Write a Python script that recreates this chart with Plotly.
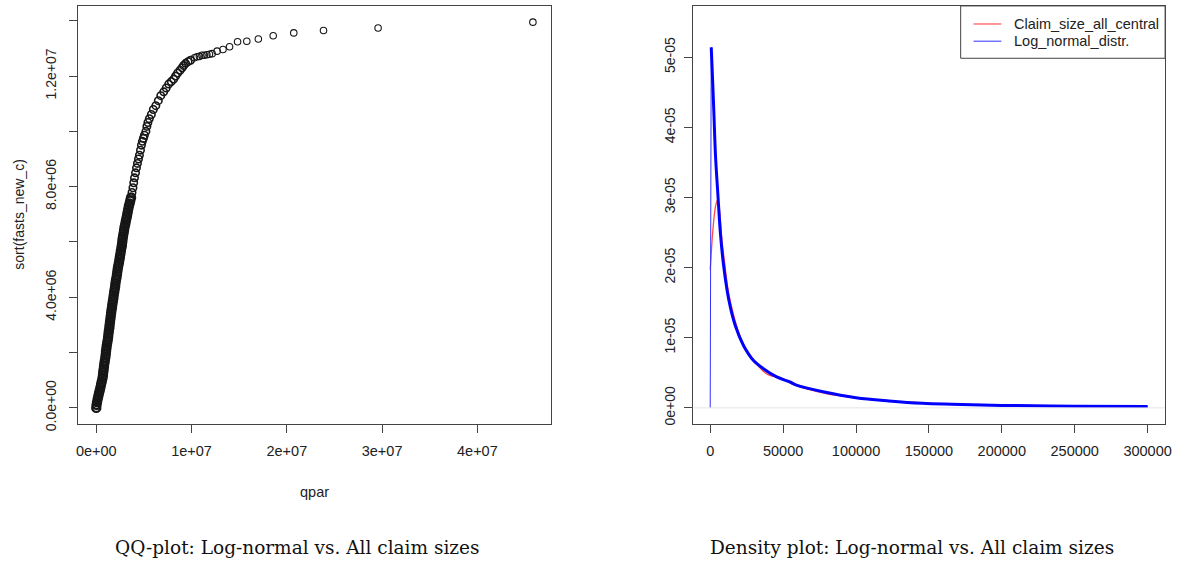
import plotly.graph_objects as go

# ---------------- data ----------------
# QQ plot: theoretical log-normal quantiles (qpar) vs sorted claim sizes, in millions
qpar_e6 = [0.00, 0.03, 0.08, 0.15, 0.22, 0.29, 0.37, 0.44, 0.51, 0.58, 0.65, 0.70, 0.73, 0.77,
           0.81, 0.85, 0.90, 0.95, 0.99, 1.02, 1.06, 1.10, 1.15, 1.21, 1.25, 1.28, 1.32, 1.37,
           1.40, 1.44, 1.48, 1.52, 1.56, 1.60, 1.65, 1.69, 1.74, 1.79, 1.83, 1.88, 1.93, 1.98,
           2.01, 2.06, 2.12, 2.17, 2.21, 2.26, 2.31, 2.38, 2.43, 2.48, 2.53, 2.58, 2.64, 2.69,
           2.73, 2.76, 2.81, 2.87, 2.92, 2.97, 3.04, 3.10, 3.17, 3.23, 3.29, 3.35, 3.42, 3.50,
           3.57, 3.65, 3.75, 3.85, 3.93, 4.01, 4.12, 4.22, 4.32, 4.43, 4.53, 4.64, 4.74, 4.84,
           4.95, 5.05, 5.21, 5.31, 5.42, 5.57, 5.78, 5.99, 6.25, 6.51, 6.77, 7.08, 7.34, 7.60,
           7.87, 8.13, 8.33, 8.54, 8.80, 9.01, 9.17, 9.38, 9.64, 9.90, 10.31, 10.57, 10.83,
           11.09, 11.35, 11.61, 11.88, 12.16, 12.68, 13.30, 13.99, 14.83, 15.80, 17.01, 18.57,
           20.73, 23.85, 29.58, 45.83]
sample_e6 = [0.00, 0.11, 0.21, 0.32, 0.43, 0.54, 0.64, 0.75, 0.86, 0.96, 1.07, 1.18, 1.29, 1.39,
             1.50, 1.61, 1.71, 1.82, 1.93, 2.04, 2.14, 2.25, 2.36, 2.46, 2.57, 2.68, 2.79, 2.89,
             3.00, 3.11, 3.21, 3.32, 3.43, 3.54, 3.64, 3.75, 3.86, 3.96, 4.07, 4.18, 4.29, 4.39,
             4.50, 4.61, 4.71, 4.82, 4.93, 5.04, 5.14, 5.25, 5.36, 5.46, 5.57, 5.68, 5.79, 5.89,
             6.00, 6.11, 6.21, 6.32, 6.43, 6.54, 6.64, 6.75, 6.86, 6.96, 7.07, 7.18, 7.29, 7.39,
             7.50, 7.61, 7.79, 7.96, 8.14, 8.32, 8.50, 8.68, 8.84, 9.00, 9.14, 9.32, 9.50, 9.64,
             9.75, 9.86, 10.00, 10.18, 10.32, 10.46, 10.61, 10.79, 10.93, 11.11, 11.29, 11.43,
             11.57, 11.71, 11.80, 11.89, 12.00, 12.11, 12.21, 12.30, 12.38, 12.46, 12.52, 12.57,
             12.66, 12.70, 12.71, 12.75, 12.75, 12.77, 12.79, 12.81, 12.90, 12.96, 13.06, 13.24,
             13.26, 13.34, 13.46, 13.56, 13.65, 13.74, 13.95]

# Density plot: kernel density of claim sizes (red) and fitted log-normal density (blue), in 1e-5
kde_x = [0, 1000, 2000, 3000, 4000, 5200, 6500, 8000, 10000, 12000, 14000, 17000, 20000, 24000,
         28000, 32000, 36000, 40000, 45000, 50000, 55000, 60000, 70000, 80000, 90000, 100000,
         120000, 140000, 160000, 180000, 200000, 230000, 250000, 280000, 300000]
kde_y_e5 = [1.97, 2.30, 2.58, 2.78, 2.91, 2.97, 2.80, 2.40, 2.05, 1.72, 1.50, 1.25, 1.05, 0.86,
            0.73, 0.62, 0.53, 0.47, 0.44, 0.41, 0.35, 0.31, 0.25, 0.20, 0.17, 0.14, 0.10, 0.08,
            0.055, 0.045, 0.04, 0.03, 0.02, 0.015, 0.01]
lnorm_x = [0, 700, 1500, 2500, 3600, 5240, 7030, 9300, 12700, 17230, 22900, 29700, 36500, 45580,
           54630, 59180, 77350, 100000, 122650, 145400, 165800, 200000, 250000, 300000]
lnorm_y_e5 = [0.0, 5.14, 4.75, 4.22, 3.61, 3.05, 2.48, 2.01, 1.545, 1.17, 0.887, 0.676, 0.559,
              0.441, 0.37, 0.324, 0.23, 0.145, 0.099, 0.066, 0.052, 0.035, 0.025, 0.02]

qq_xticks = [0, 1e7, 2e7, 3e7, 4e7]
qq_xlabels = ["0e+00", "1e+07", "2e+07", "3e+07", "4e+07"]
qq_yticks = [0, 2e6, 4e6, 6e6, 8e6, 1e7, 1.2e7, 1.4e7]
qq_ylabels = ["0.0e+00", "", "4.0e+06", "", "8.0e+06", "", "1.2e+07", ""]
d_xticks = [0, 50000, 100000, 150000, 200000, 250000, 300000]
d_xlabels = ["0", "50000", "100000", "150000", "200000", "250000", "300000"]
d_yticks = [0, 1e-5, 2e-5, 3e-5, 4e-5, 5e-5]
d_ylabels = ["0e+00", "1e-05", "2e-05", "3e-05", "4e-05", "5e-05"]

legend_names = ["Claim_size_all_central", "Log_normal_distr."]
captions = ["QQ-plot: Log-normal vs. All claim sizes", "Density plot: Log-normal vs. All claim sizes"]

# ---------------- figure ----------------
W, H = 1185, 565
def fx(p):
    return p / W
def fy(p):
    return 1 - p / H

qpar = [v * 1e6 for v in qpar_e6]
sample = [v * 1e6 for v in sample_e6]
kde_y = [v * 1e-5 for v in kde_y_e5]
lnorm_y = [v * 1e-5 for v in lnorm_y_e5]

fig = go.Figure()
# overplotted circles: denser part drawn with heavier rings to mimic overlap
groups = [(0, 72, 2.4, 8), (72, 108, 1.6, 7.4), (108, len(qpar), 1.1, 6.5)]
for a, b, lw, sz in groups:
    fig.add_trace(go.Scatter(x=qpar[a:b], y=sample[a:b], mode="markers", xaxis="x", yaxis="y",
                             marker=dict(symbol="circle-open", size=sz, color="#161616",
                                         line=dict(width=lw)),
                             showlegend=False, hoverinfo="skip"))
fig.add_trace(go.Scatter(x=kde_x, y=kde_y, mode="lines", xaxis="x2", yaxis="y2",
                         line=dict(color="rgba(255,40,40,0.85)", width=1.3, shape="spline"),
                         showlegend=False))
fig.add_trace(go.Scatter(x=lnorm_x, y=lnorm_y, mode="lines", xaxis="x2", yaxis="y2",
                         line=dict(color="#3030ff", width=1), showlegend=False))
fig.add_trace(go.Scatter(x=lnorm_x[1:], y=lnorm_y[1:], mode="lines", xaxis="x2", yaxis="y2",
                         line=dict(color="#0000ff", width=3, shape="spline"), showlegend=False))

tickfont = dict(family="Liberation Sans, Arial, sans-serif", size=14.5, color="#222")
ytickfont = dict(family="Liberation Sans, Arial, sans-serif", size=14, color="#222")
axcommon = dict(showgrid=False, zeroline=False, showline=True, mirror=True, linecolor="#444",
                linewidth=1, ticks="outside", ticklen=8, tickcolor="#444", tickwidth=1)

fig.update_layout(
    width=W, height=H, margin=dict(l=0, r=0, t=0, b=0),
    paper_bgcolor="white", plot_bgcolor="white", showlegend=False,
    xaxis=dict(domain=[fx(77), fx(553)], range=[-1.875e6, 4.7708e7], anchor="y",
               tickmode="array", tickvals=qq_xticks, ticktext=qq_xlabels, tickfont=tickfont,
               ticklabelstandoff=6, **axcommon),
    yaxis=dict(domain=[fy(429), fy(6)], range=[-0.5714e6, 1.4536e7], anchor="x",
               tickmode="array", tickvals=qq_yticks, ticktext=qq_ylabels, tickfont=ytickfont,
               tickangle=-90, ticklabelstandoff=8, **axcommon),
    xaxis2=dict(domain=[fx(696), fx(1172)], range=[-12000, 312000], anchor="y2",
                tickmode="array", tickvals=d_xticks, ticktext=d_xlabels, tickfont=tickfont,
                ticklabelstandoff=6, **axcommon),
    yaxis2=dict(domain=[fy(429), fy(6)], range=[-0.2254e-5, 5.732e-5], anchor="x2",
                tickmode="array", tickvals=d_yticks, ticktext=d_ylabels, tickfont=ytickfont,
                tickangle=-90, ticklabelstandoff=3, **axcommon),
)

# zero line of density plot
fig.add_shape(type="line", xref="x2 domain", yref="y2", x0=0, x1=1, y0=0, y1=0,
              line=dict(color="#e4e4e4", width=1))

# manual legend (R style)
fig.add_shape(type="rect", xref="paper", yref="paper", x0=fx(966), x1=fx(1172), y0=fy(59), y1=fy(6),
              line=dict(color="#444", width=1), fillcolor="white")
for i, (name, col) in enumerate(zip(legend_names, ["#ff3030", "#3030ff"])):
    yy = 24.3 + i * 17.4
    fig.add_shape(type="line", xref="paper", yref="paper", x0=fx(979), x1=fx(1007),
                  y0=fy(yy), y1=fy(yy), line=dict(color=col, width=1))
    fig.add_annotation(text=name, xref="paper", yref="paper", x=fx(1018), y=fy(yy),
                       xanchor="left", yanchor="middle", showarrow=False,
                       font=dict(family="Liberation Sans, Arial, sans-serif", size=14.5, color="#222"))

# axis titles
fig.add_annotation(text="qpar", xref="paper", yref="paper", x=fx(315), y=fy(498),
                   xanchor="center", yanchor="middle", showarrow=False, font=tickfont)
fig.add_annotation(text="sort(fasts_new_c)", xref="paper", yref="paper", x=fx(17), y=fy(217.5),
                   xanchor="center", yanchor="middle", showarrow=False, textangle=-90,
                   font=ytickfont)

# captions
for cx, txt in zip([298, 917], captions):
    fig.add_annotation(text=txt, xref="paper", yref="paper", x=fx(cx), y=fy(554),
                       xanchor="center", yanchor="middle", showarrow=False,
                       font=dict(family="DejaVu Serif, Liberation Serif, serif", size=18.5,
                                 color="#111"))

fig.write_html("out.html")
